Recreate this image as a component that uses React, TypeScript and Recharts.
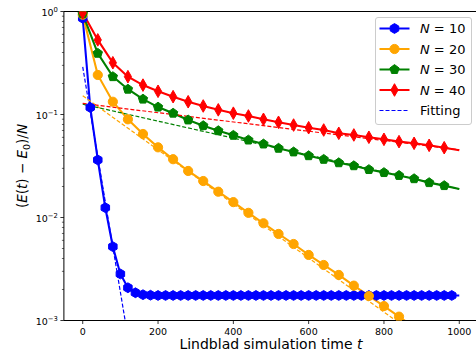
import React from "react"
import { LineChart, Line, XAxis, YAxis, ReferenceLine, Legend, Label } from "recharts"

// time grids (t)
const timesN10 = [
  0, 20, 40, 60, 80, 100, 120, 140, 160, 180, 200, 220, 240, 260, 280, 300, 320, 340, 360, 380,
  400, 420, 440, 460, 480, 500, 520, 540, 560, 580, 600, 620, 640, 660, 680, 700, 720, 740, 760, 780,
  800, 820, 840, 860, 880, 900, 920, 940, 960, 980, 1000,
]
const timesCoarse = [
  0, 40, 80, 120, 160, 200, 240, 280, 320, 360, 400, 440, 480, 520, 560, 600, 640, 680, 720, 760,
  800, 840, 880, 920, 960, 1000,
]
const timesN20 = [
  0, 40, 80, 120, 160, 200, 240, 280, 320, 360, 400, 440, 480, 520, 560, 600, 640, 680, 720, 760,
  800, 840, 880,
]

// (E(t) - E0)/N for each system size
const valuesN10 = [
  0.86, 0.117, 0.0362, 0.01245, 0.00521, 0.00283, 0.00208, 0.00186, 0.00178, 0.00176, 0.00175,
  0.00175, 0.00175, 0.00175, 0.00175, 0.00175, 0.00175, 0.00175, 0.00175, 0.00175, 0.00175,
  0.00175, 0.00175, 0.00175, 0.00175, 0.00175, 0.00175, 0.00175, 0.00175, 0.00175, 0.00175,
  0.00175, 0.00175, 0.00175, 0.00175, 0.00175, 0.00175, 0.00175, 0.00175, 0.00175, 0.00175,
  0.00175, 0.00175, 0.00175, 0.00175, 0.00175, 0.00175, 0.00175, 0.00175, 0.00175, 0.00175,
]
const valuesN20 = [
  0.93, 0.242, 0.133, 0.0898, 0.0647, 0.048, 0.0368, 0.0283, 0.0226, 0.0178, 0.0141, 0.0111,
  0.00879, 0.00692, 0.00553, 0.00433, 0.00346, 0.00277, 0.00218, 0.00173, 0.00138, 0.00109, 0.00086,
]
const valuesN30 = [
  0.95, 0.393, 0.233, 0.176, 0.141, 0.118, 0.103, 0.0885, 0.0779, 0.0696, 0.0628, 0.0565, 0.0517,
  0.047, 0.0433, 0.0398, 0.0367, 0.034, 0.0318, 0.0292, 0.0273, 0.0256, 0.0238, 0.0218, 0.0204, 0.0189,
]
const valuesN40 = [
  0.97, 0.53, 0.318, 0.233, 0.193, 0.168, 0.149, 0.133, 0.121, 0.111, 0.103, 0.0967, 0.0898,
  0.084, 0.079, 0.0744, 0.0707, 0.0657, 0.0633, 0.0601, 0.0574, 0.0545, 0.0525, 0.0502, 0.0476, 0.045,
]

// exponential fits (straight lines on the log axis), end points only
const fitTimesN10 = [0, 120]
const fitValuesN10 = [0.29, 0.00069]
const fitTimes = [0, 1000]
const fitValuesN20 = [0.152, 0.00036]
const fitValuesN30 = [0.126, 0.0189]
const fitValuesN40 = [0.128, 0.0455]

const xTicks = [0, 200, 400, 600, 800, 1000]
const yTicks = [
  0.001, 0.002, 0.003, 0.004, 0.005, 0.006, 0.007, 0.008, 0.009,
  0.01, 0.02, 0.03, 0.04, 0.05, 0.06, 0.07, 0.08, 0.09,
  0.1, 0.2, 0.3, 0.4, 0.5, 0.6, 0.7, 0.8, 0.9, 1,
]

const FONT = "DejaVu Sans"

const zip = (ts: number[], vs: number[]) => vs.map((v, i) => ({ t: ts[i], v }))

type Shape = "hexagon" | "circle" | "pentagon" | "diamond"

function polygon(cx: number, cy: number, r: number, n: number) {
  const pts: string[] = []
  for (let k = 0; k < n; k++) {
    const a = -Math.PI / 2 + (k * 2 * Math.PI) / n
    pts.push(`${cx + r * Math.cos(a)},${cy + r * Math.sin(a)}`)
  }
  return pts.join(" ")
}

function Marker({ shape, cx, cy, color }: { shape: Shape; cx: number; cy: number; color: string }) {
  if (shape === "circle") return <circle cx={cx} cy={cy} r={4.6} fill={color} stroke={color} strokeWidth={1} />
  if (shape === "hexagon")
    return <polygon points={polygon(cx, cy, 4.9, 6)} fill={color} stroke={color} strokeWidth={1} />
  if (shape === "pentagon")
    return <polygon points={polygon(cx, cy, 4.9, 5)} fill={color} stroke={color} strokeWidth={1} />
  return (
    <polygon
      points={`${cx},${cy - 6.3} ${cx + 3.6},${cy} ${cx},${cy + 6.3} ${cx - 3.6},${cy}`}
      fill={color}
      stroke={color}
      strokeWidth={1}
    />
  )
}

// no marker on the last (t = 1000) sample
const dotFor = (shape: Shape, color: string) => (p: any) => {
  if (p.payload.t >= 1000 || p.cx == null || p.cy == null) return <g key={p.key} />
  return (
    <g key={p.key}>
      <Marker shape={shape} cx={p.cx} cy={p.cy} color={color} />
    </g>
  )
}

function YTick(props: any) {
  const { x, y, payload } = props
  const e = Math.log10(payload.value)
  const exp = Math.round(e)
  if (Math.abs(e - exp) > 1e-6) {
    return <line x1={x - 2} x2={x} y1={y} y2={y} stroke="#000" strokeWidth={0.6} />
  }
  return (
    <g>
      <line x1={x - 3.5} x2={x} y1={y} y2={y} stroke="#000" strokeWidth={0.8} />
      <text x={x - 6} y={y + 4.5} textAnchor="end" fontSize={9.5} fontFamily={FONT} fill="#000">
        10
        <tspan dy={-4.5} fontSize={6.8}>
          {exp === 0 ? "0" : "\u2212" + -exp}
        </tspan>
      </text>
    </g>
  )
}

function XTick(props: any) {
  const { x, y, payload } = props
  return (
    <g>
      <line x1={x} x2={x} y1={y} y2={y + 3.5} stroke="#000" strokeWidth={0.8} />
      <text x={x} y={y + 14.5} textAnchor="middle" fontSize={9.5} fontFamily={FONT} fill="#000">
        {payload.value}
      </text>
    </g>
  )
}

const legendItems: { n: string; color: string; shape: Shape }[] = [
  { n: "10", color: "#0000ff", shape: "hexagon" },
  { n: "20", color: "#ffa500", shape: "circle" },
  { n: "30", color: "#008000", shape: "pentagon" },
  { n: "40", color: "#ff0000", shape: "diamond" },
]

function LegendBox() {
  return (
    <svg width={98} height={109} style={{ display: "block" }}>
      <rect x={0.5} y={0.5} width={96} height={107} rx={2.5} fill="rgba(255,255,255,0.8)" stroke="#cccccc" />
      {legendItems.map((it, i) => {
        const cy = 11.5 + i * 20.5
        return (
          <g key={it.n}>
            <line x1={4.5} x2={34.5} y1={cy} y2={cy} stroke={it.color} strokeWidth={2} />
            <Marker shape={it.shape} cx={19.5} cy={cy} color={it.color} />
            <text x={45} y={cy + 4.6} fontSize={13} fontFamily={FONT} fill="#000">
              <tspan fontStyle="italic">N</tspan> = {it.n}
            </text>
          </g>
        )
      })}
      <line x1={4.5} x2={34.5} y1={93.5} y2={93.5} stroke="#0000ff" strokeWidth={1.2} strokeDasharray="4 2" />
      <text x={45} y={98.1} fontSize={13} fontFamily={FONT} fill="#000">
        Fitting
      </text>
    </svg>
  )
}

export default function App() {
  const series = [
    { data: zip(timesN10, valuesN10), color: "#0000ff", shape: "hexagon" as Shape },
    { data: zip(timesN20, valuesN20), color: "#ffa500", shape: "circle" as Shape },
    { data: zip(timesCoarse, valuesN30), color: "#008000", shape: "pentagon" as Shape },
    { data: zip(timesCoarse, valuesN40), color: "#ff0000", shape: "diamond" as Shape },
  ]
  const fits = [
    { data: zip(fitTimesN10, fitValuesN10), color: "#0000ff" },
    { data: zip(fitTimes, fitValuesN20), color: "#ffa500" },
    { data: zip(fitTimes, fitValuesN30), color: "#008000" },
    { data: zip(fitTimes, fitValuesN40), color: "#ff0000" },
  ]

  return (
    <div
      style={{
        position: "absolute",
        left: 0,
        top: 0,
        width: 476,
        height: 356,
        overflow: "hidden",
        background: "#fff",
      }}
    >
      <LineChart width={482} height={356} margin={{ top: 11.5, right: 3.9, bottom: 0, left: 0 }}>
        <XAxis
          dataKey="t"
          type="number"
          domain={[-50, 1050]}
          allowDataOverflow
          ticks={xTicks}
          height={35.5}
          tickSize={0}
          tickMargin={0}
          tickLine={false}
          tick={(p: any) => <XTick {...p} />}
          axisLine={{ stroke: "#000", strokeWidth: 1 }}
        >
          <Label
            content={(p: any) => {
              const vb = p.viewBox
              return (
                <text
                  x={vb.x + vb.width / 2}
                  y={vb.y + 28}
                  textAnchor="middle"
                  fontSize={14}
                  fontFamily={FONT}
                  fill="#000"
                >
                  Lindblad simulation time <tspan fontStyle="italic">t</tspan>
                </text>
              )
            }}
          />
        </XAxis>
        <YAxis
          type="number"
          scale="log"
          domain={[0.001, 1]}
          allowDataOverflow
          ticks={yTicks}
          width={63.9}
          tickSize={0}
          tickMargin={0}
          tickLine={false}
          interval={0}
          tick={(p: any) => <YTick {...p} />}
          axisLine={{ stroke: "#000", strokeWidth: 1 }}
        >
          <Label
            content={(p: any) => {
              const vb = p.viewBox
              const cy = vb.y + vb.height / 2
              return (
                <text
                  x={27}
                  y={cy}
                  transform={`rotate(-90 27 ${cy})`}
                  textAnchor="middle"
                  fontSize={13.5}
                  fontFamily={FONT}
                  fill="#000"
                >
                  (<tspan fontStyle="italic">E</tspan>(<tspan fontStyle="italic">t</tspan>) − <tspan fontStyle="italic">E</tspan>
                  <tspan dy={3} fontSize={9.5}>0</tspan>
                  <tspan dy={-3}>)/</tspan>
                  <tspan fontStyle="italic">N</tspan>
                </text>
              )
            }}
          />
        </YAxis>
        <ReferenceLine y={1} stroke="#000" strokeWidth={1} ifOverflow="extendDomain" />
        {series.map((s, i) => (
          <Line
            key={"d" + i}
            data={s.data}
            dataKey="v"
            type="linear"
            stroke={s.color}
            strokeWidth={2.1}
            dot={dotFor(s.shape, s.color)}
            activeDot={false}
            isAnimationActive={false}
          />
        ))}
        {fits.map((f, i) => (
          <Line
            key={"f" + i}
            data={f.data}
            dataKey="v"
            type="linear"
            stroke={f.color}
            strokeWidth={1.2}
            strokeDasharray="4 2"
            dot={false}
            activeDot={false}
            isAnimationActive={false}
          />
        ))}
        <Legend
          layout="horizontal"
          verticalAlign="middle"
          align="center"
          content={() => <LegendBox />}
          wrapperStyle={{ position: "absolute", left: 375, top: 17, width: 98, height: 109 }}
        />
      </LineChart>
    </div>
  )
}
